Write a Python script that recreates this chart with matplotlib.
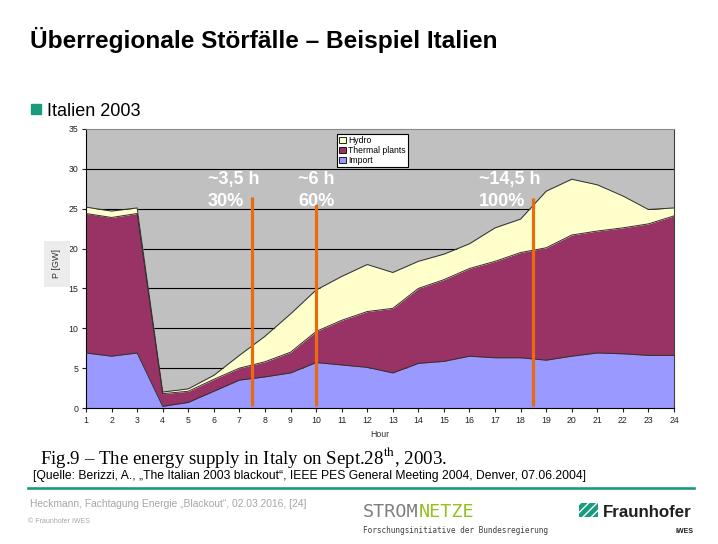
import matplotlib
matplotlib.use("Agg")
import matplotlib.pyplot as plt
from matplotlib.patches import Rectangle
from matplotlib.lines import Line2D

plt.rcParams.update({
    "font.family": ["Liberation Sans", "DejaVu Sans"],
    "mathtext.fontset": "stix",
})

# Daten: Energieversorgung Italien, 28.09.2003 (GW, gestapelt)
hours = list(range(1, 25))
imp = [6.9, 6.5, 6.9, 0.2, 0.7, 2.1, 3.5, 3.9, 4.4, 5.7, 5.4, 5.1,
       4.4, 5.6, 5.85, 6.5, 6.3, 6.3, 6.0, 6.5, 6.9, 6.8, 6.6, 6.6]
# Obergrenze Thermal (kumuliert)
thermal_top = [24.4, 23.9, 24.4, 1.8, 2.1, 3.6, 5.0, 5.8, 7.0, 9.6, 11.0, 12.1,
               12.5, 15.0, 16.1, 17.5, 18.4, 19.5, 20.1, 21.7, 22.2, 22.6, 23.1, 24.1]
# Obergrenze Hydro (Gesamt)
total = [25.2, 24.7, 25.1, 2.0, 2.4, 4.1, 6.6, 9.0, 11.8, 14.8, 16.5, 18.0,
         17.0, 18.4, 19.3, 20.6, 22.6, 23.7, 27.2, 28.7, 28.0, 26.6, 24.9, 25.1]

series_names = ["Hydro", "Thermal plants", "Import"]
series_colors = ["#ffffcc", "#993366", "#9999ff"]

# Markierungen: Stunde, Oberkante, Text
marker_x = [7.5, 10, 18.5]
marker_top = [26.5, 25.6, 26.4]
marker_text_x = [5.77, 9.29, 16.37]
marker_line1 = ["~3,5 h", "~6 h", "~14,5 h"]
marker_line2 = ["30%", "60%", "100%"]

W, H = 718, 544


def fx(x):
    return x / W


def fy(y):
    return 1 - y / H


fig = plt.figure(figsize=(W / 100, H / 100), dpi=100)
fig.patch.set_facecolor("white")

ax = fig.add_axes([fx(86), fy(408), (674 - 86) / W, (408 - 129) / H])
ax.set_facecolor("#c0c0c0")

ax.fill_between(hours, 0, imp, color=series_colors[2], lw=0, zorder=2)
ax.fill_between(hours, imp, thermal_top, color=series_colors[1], lw=0, zorder=2)
ax.fill_between(hours, thermal_top, total, color=series_colors[0], lw=0, zorder=2)
for s in (imp, thermal_top, total):
    ax.plot(hours, s, color="#303030", lw=0.7, zorder=3)

ax.set_xlim(1, 24)
ax.set_ylim(0, 35)
ax.set_xticks(hours)
ax.set_yticks(range(0, 36, 5))
for g in range(5, 35, 5):
    ax.axhline(g, color="black", lw=0.8, zorder=1)
ax.tick_params(labelsize=6.3, length=3, width=0.8, colors="#222222", pad=2.5)
ax.spines["top"].set_color("#8a8a8a")
ax.spines["right"].set_color("#404040")
for side in ("left", "bottom"):
    ax.spines[side].set_color("black")

# orange Linien
ax.vlines(marker_x, 0.2, marker_top, color="#ea6a0e", lw=2.3, zorder=5)
for x, l1, l2 in zip(marker_text_x, marker_line1, marker_line2):
    ax.text(x, 28.1, l1, color="white", fontsize=13, fontweight="bold",
            ha="left", va="baseline", zorder=6)
    ax.text(x, 25.35, l2, color="white", fontsize=13, fontweight="bold",
            ha="left", va="baseline", zorder=6)

handles = [Rectangle((0, 0), 1, 1, facecolor=c, edgecolor="black", lw=0.6)
           for c in series_colors]
leg = ax.legend(handles, series_names, loc="upper left",
                bbox_to_anchor=((337 - 86) / 588, (408 - 134) / 279),
                borderaxespad=0, fontsize=6.2, handlelength=0.75, handleheight=0.75,
                labelspacing=0.1, handletextpad=0.3, borderpad=0.25,
                fancybox=False, framealpha=1, edgecolor="black")
leg.get_frame().set_linewidth(0.8)
leg.set_zorder(7)

fig.text(fx(57), fy(264), "P [GW]", rotation=90, ha="center", va="center",
         fontsize=6.5, color="#333333",
         bbox=dict(boxstyle="square,pad=0.9", fc="#ececec", ec="none"))
fig.text(fx(380), fy(437), "Hour", ha="center", va="baseline",
         fontsize=6.3, color="#333333")

# Folientexte
fig.text(fx(30), fy(48), "Überregionale Störfälle – Beispiel Italien",
         fontsize=17.6, fontweight="bold", va="baseline", color="black")
fig.patches.append(Rectangle((fx(31), fy(114)), 10 / W, 10 / H,
                             transform=fig.transFigure, color="#1a9a7e"))
fig.text(fx(47), fy(116), "Italien 2003", fontsize=13, va="baseline")

fig.text(fx(40), fy(464), "Fig.9 – The energy supply in Italy on Sept.28$^{\\mathrm{th}}$, 2003.",
         fontsize=13.6, va="baseline", family=["Liberation Serif", "DejaVu Serif"])
fig.text(fx(33), fy(478.5),
         "[Quelle: Berizzi, A., „The Italian 2003 blackout“, IEEE PES General Meeting 2004, Denver, 07.06.2004]",
         fontsize=8.7, va="baseline")

fig.add_artist(Line2D([fx(28), fx(694)], [fy(488), fy(488)], color="#1a9a7e", lw=1.9))

fig.text(fx(30), fy(507), "Heckmann, Fachtagung Energie „Blackout“, 02.03.2016, [24]",
         fontsize=7.35, va="baseline", color="#a6a6a6")
fig.text(fx(28), fy(523), "© Fraunhofer IWES", fontsize=5, va="baseline", color="#a6a6a6")

mono = ["DejaVu Sans Mono"]
fig.text(fx(363), fy(517), "STROM", fontsize=13.3, va="baseline", color="#7f7f7f", family=mono)
fig.text(fx(419), fy(517), "NETZE", fontsize=13.3, va="baseline", color="#95c11f", family=mono)
fig.text(fx(363), fy(533), "Forschungsinitiative der Bundesregierung",
         fontsize=5.6, va="baseline", color="#404040", family=mono)

fig.patches.append(Rectangle((fx(579), fy(517)), 19 / W, 14 / H,
                             transform=fig.transFigure, facecolor="#179c7d",
                             edgecolor="white", hatch="////", lw=0))
fig.text(fx(603), fy(517), "Fraunhofer", fontsize=12.2, fontweight="bold",
         va="baseline", color="#1f1f1f")
fig.text(fx(693), fy(533), "IWES", fontsize=5, fontweight="bold",
         ha="right", va="baseline", color="#1f1f1f")

fig.savefig("out.png", dpi=100)
